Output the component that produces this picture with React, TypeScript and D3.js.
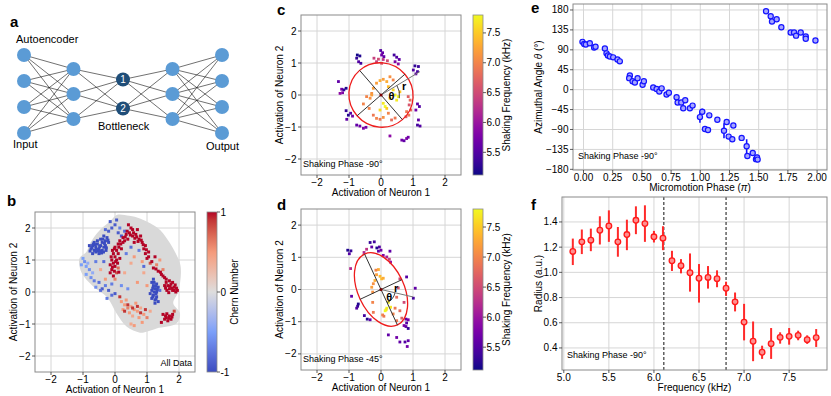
import React from "react";
import * as d3 from "d3";

const FONT = '"Liberation Sans", Arial, Helvetica, sans-serif';

// ---------------- Panel a : autoencoder diagram ----------------
const layerSizes = [4, 3, 2, 3, 4];
const layerSpacing = [26, 25, 29, 25, 26];
const bottleneckLabels = ["1", "2"];

// ---------------- Panel b : latent space coloured by Chern number ----------------
const neuronTicks = [-2, -1, 0, 1, 2];
const chernTicks = [1, 0, -1];
const chernTickLabels = ["1", "0", "-1"];
const blobOutline: [number, number][] = [
  [0.05, 2.41], [0.45, 2.38], [0.78, 2.3], [1.1, 2.15], [1.41, 1.94], [1.72, 1.52], [1.9, 1.2],
  [2.03, 0.9], [2.06, 0.6], [1.98, 0.01], [1.82, -0.35], [2.03, -0.66], [1.93, -0.98],
  [1.3, -1.14], [0.99, -1.24], [0.78, -1.27], [0.36, -1.08], [0.05, -0.67], [-0.26, -0.15],
  [-0.68, 0.17], [-1.04, 0.59], [-1.11, 1.05], [-0.89, 1.26], [-0.78, 1.52], [-0.47, 1.94],
  [-0.16, 2.2],
];
const chernPoints: [number, number, number][] = [
  // dense blue upper-left
  [-0.75, 1.35, -1], [-0.7, 1.45, -1], [-0.65, 1.3, -1], [-0.6, 1.4, -1], [-0.55, 1.5, -1], [-0.5, 1.35, -1],
  [-0.45, 1.45, -1], [-0.4, 1.55, -1], [-0.35, 1.4, -1], [-0.3, 1.6, -1], [-0.6, 1.25, -1], [-0.5, 1.2, -1],
  [-0.4, 1.3, -1], [-0.3, 1.45, -1], [-0.25, 1.7, -1], [-0.35, 1.75, -1], [-0.45, 1.65, -1], [-0.55, 1.6, -1],
  [-0.65, 1.55, -1], [-0.8, 1.45, -1], [-0.7, 1.2, -1], [-0.2, 1.55, -1], [-0.28, 1.3, -1], [-0.42, 1.22, -1],
  [-0.62, 1.48, -1], [-0.52, 1.28, -1], [-0.38, 1.65, -1],
  [-0.72, 1.38, -1], [-0.58, 1.33, -1], [-0.48, 1.42, -1], [-0.33, 1.52, -1], [-0.27, 1.38, -1],
  [-0.68, 1.5, -1], [-0.78, 1.28, -1], [-0.46, 1.28, -1], [-0.36, 1.25, -1], [-0.22, 1.62, -1],
  // sparse blue top
  [-0.2, 1.9, -0.9], [-0.1, 2.0, -0.9], [0.0, 2.1, -0.9], [-0.3, 1.95, -0.8], [0.1, 1.85, -0.9],
  [0.15, 2.0, -0.7], [0.05, 2.25, -0.9], [0.2, 1.75, -0.9], [-0.15, 2.2, -0.9], [0.3, 1.9, -0.8],
  // light blue left
  [-1.0, 1.05, -0.5], [-0.95, 0.95, -0.6], [-0.9, 0.8, -0.5], [-0.85, 0.9, -0.4], [-0.8, 0.7, -0.6],
  [-0.9, 0.55, -0.5], [-0.75, 0.45, -0.6], [-0.7, 0.6, -0.4], [-1.05, 0.85, -0.5], [-0.65, 0.35, -0.7],
  [-0.6, 0.15, -0.6],
  // blue lower-left scattered
  [-0.5, 0.3, -0.8], [-0.4, 0.1, -0.9], [-0.3, 0.2, -0.7], [-0.2, 0.05, -0.9], [-0.1, -0.1, -0.8],
  [0.0, -0.05, -0.9], [-0.45, 0.05, -0.8], [-0.25, -0.2, -0.7],
  // red left vertical band
  [0.0, 1.4, 1], [0.05, 1.3, 1], [-0.05, 1.2, 1], [0.0, 1.1, 1], [-0.1, 1.0, 1], [-0.05, 0.9, 1],
  [0.0, 0.8, 1], [-0.1, 0.7, 1], [0.05, 0.6, 0.8], [-0.05, 0.5, 1], [0.1, 1.5, 1], [0.15, 1.6, 1],
  [0.05, 1.0, 1], [0.1, 0.75, 0.7], [-0.15, 0.85, 1], [0.1, 1.2, 1], [0.2, 1.35, 1], [0.0, 0.4, 0.6],
  [-0.15, 0.6, 1], [0.08, 0.9, 1], [-0.08, 1.3, 1],
  [-0.02, 1.35, 1], [0.12, 1.4, 1], [-0.12, 1.1, 1], [0.02, 0.95, 1], [-0.08, 0.78, 1], [0.12, 0.62, 1],
  [-0.02, 0.65, 1], [0.15, 1.05, 1], [0.18, 1.5, 1], [0.25, 1.55, 1],
  // red top arc
  [0.25, 1.7, 1], [0.35, 1.8, 1], [0.45, 1.85, 1], [0.55, 1.75, 1], [0.65, 1.8, 1], [0.75, 1.65, 1],
  [0.85, 1.55, 1], [0.95, 1.45, 1], [0.4, 1.65, 1], [0.6, 1.55, 1], [0.7, 1.95, 1], [0.5, 2.0, 1],
  [0.3, 1.6, 1], [0.8, 1.75, 1], [0.9, 1.35, 1], [0.95, 1.2, 1], [1.05, 1.25, 1], [1.0, 1.05, 1],
  [0.42, 2.1, 1], [0.62, 1.68, 1],
  [0.32, 1.72, 1], [0.48, 1.78, 1], [0.58, 1.85, 1], [0.68, 1.72, 1], [0.82, 1.62, 1], [0.88, 1.48, 1],
  [0.98, 1.32, 1], [0.72, 1.58, 1], [0.55, 1.95, 1], [0.38, 1.9, 1],
  // red right side
  [1.1, 0.9, 0.8], [1.2, 0.75, 1], [1.3, 0.85, 0.6], [1.35, 0.65, 1], [1.45, 0.55, 1], [1.5, 0.7, 0.6],
  [1.55, 0.45, 1], [1.4, 1.0, 0.5], [1.25, 1.1, 1],
  [1.05, 1.1, 1], [1.15, 0.95, 1], [1.28, 0.72, 1], [1.42, 0.62, 1], [1.5, 0.5, 1], [1.6, 0.4, 1],
  // red right protrusion
  [1.6, 0.3, 1], [1.65, 0.2, 1], [1.7, 0.1, 1], [1.75, 0.25, 1], [1.8, 0.05, 1], [1.85, 0.15, 1],
  [1.9, 0.0, 1], [1.7, 0.35, 1], [1.62, 0.05, 1], [1.95, 0.05, 1], [1.8, 0.3, 1], [1.55, 0.2, 1],
  [1.68, -0.02, 1], [1.88, 0.22, 1],
  [1.72, 0.18, 1], [1.78, 0.12, 1], [1.85, 0.05, 1], [1.58, 0.12, 1], [1.92, 0.12, 1],
  // blue right cluster
  [1.15, 0.3, -1], [1.2, 0.2, -1], [1.25, 0.1, -1], [1.3, 0.0, -1], [1.2, -0.1, -1], [1.25, -0.25, -1],
  [1.3, 0.25, -1], [1.35, 0.15, -1], [1.15, 0.05, -1], [1.1, -0.05, -1], [1.3, -0.15, -1], [1.2, 0.4, -1],
  [1.4, 0.05, -0.8], [1.25, -0.35, -1], [1.35, -0.3, -1], [1.15, -0.2, -1], [1.22, 0.0, -1], [1.28, -0.05, -1],
  [1.18, 0.12, -1], [1.27, 0.18, -1], [1.32, 0.08, -1], [1.18, -0.15, -1], [1.28, -0.22, -1], [1.22, 0.3, -1],
  // red bottom right
  [1.5, -0.7, 1], [1.6, -0.8, 1], [1.7, -0.75, 1], [1.75, -0.85, 1], [1.65, -0.9, 1], [1.55, -0.85, 1],
  [1.8, -0.7, 1], [1.45, -0.95, 1], [1.85, -0.6, 0.8],
  [1.58, -0.75, 1], [1.68, -0.82, 1], [1.78, -0.78, 1], [1.62, -0.68, 1],
  // salmon lower middle
  [0.2, -0.3, 0.5], [0.3, -0.4, 0.5], [0.4, -0.5, 0.6], [0.5, -0.45, 0.4], [0.6, -0.55, 0.5], [0.7, -0.6, 0.5],
  [0.8, -0.5, 0.4], [0.9, -0.7, 0.5], [1.0, -0.8, 0.6], [0.45, -0.65, 0.5], [0.55, -0.75, 0.4], [0.35, -0.25, 0.5],
  [0.65, -0.35, 0.5], [0.75, -0.8, 0.5], [1.1, -0.6, 0.4], [0.25, -0.55, 0.5], [0.85, -0.95, 0.5],
  [0.5, -1.0, 0.4], [0.6, -1.05, 0.5],
  // red lower scattered
  [0.4, -0.4, 0.9], [0.55, -0.5, 0.9], [0.3, -0.6, 0.9], [0.7, -0.45, 0.9], [0.95, -0.55, 0.9],
  [0.15, -0.15, 0.9], [0.8, -0.65, 0.9],
  // light red middle
  [0.5, 0.9, 0.4], [0.6, 1.1, 0.5], [0.3, 0.6, 0.4], [0.7, 0.3, 0.5], [0.9, 0.6, 0.4], [0.85, 0.95, 0.5],
  [-0.3, 0.4, 0.5], [-0.45, 0.7, 0.4], [1.0, 0.2, 0.5],
  // blue scattered center
  [0.35, 1.2, -0.7], [0.5, 1.4, -0.8], [0.75, 1.3, -0.7], [0.9, 0.8, -0.8], [0.4, 0.1, -0.6],
  [-0.6, 0.95, -0.7], [-0.35, 0.95, -0.8], [-0.1, 0.25, -0.7], [0.2, 0.2, -0.6],
];

// ---------------- Panels c & d : latent space coloured by frequency ----------------
const freqTicks = [5.5, 6.0, 6.5, 7.0, 7.5];
const freqDomain = [5.12, 7.8];
const pointsC: [number, number, number][] = [
  [-0.74, 1.25, 5.15], [-0.66, 1.22, 5.2], [-0.76, 1.15, 5.3], [-0.7, 1.04, 5.5], [-0.63, 0.99, 5.4],
  [-0.22, 1.15, 6.4], [-0.08, 1.12, 6.5], [0.07, 1.11, 6.3], [0.2, 1.07, 6.5], [0.02, 0.99, 6.6], [-0.14, 1.04, 6.4],
  [-0.01, 1.39, 5.5], [0.05, 1.32, 5.6], [0.02, 1.25, 5.7], [0.09, 1.2, 5.6],
  [0.41, 1.25, 5.4], [0.49, 1.18, 5.5], [0.57, 1.11, 5.6], [0.44, 1.04, 5.8], [0.54, 0.97, 5.9],
  [1.06, 0.91, 5.3], [1.17, 0.89, 5.35], [1.01, 0.78, 5.5], [1.14, 0.73, 5.4], [1.09, 0.66, 5.6],
  [-1.33, 0.42, 5.6], [-1.23, 0.18, 5.7], [-1.16, 0.16, 5.3], [-1.2, 0.07, 5.8], [-1.09, 0.21, 5.2], [-1.28, 0.05, 5.9],
  [-1.09, -0.49, 5.3], [-1.02, -0.63, 5.2], [-0.95, -0.57, 5.5], [-0.89, -0.66, 5.7], [-1.07, -0.76, 5.6],
  [-0.76, -0.94, 5.6], [-0.66, -0.97, 5.7], [-0.55, -1.04, 5.8], [-0.47, -1.01, 5.7],
  [1.14, -0.28, 5.6], [1.2, -0.36, 5.5], [1.09, -0.47, 5.7], [1.17, -0.78, 5.6], [1.14, -0.94, 5.4], [1.22, -0.97, 5.5],
  [0.65, -1.41, 5.7], [0.72, -1.43, 5.6], [0.8, -1.36, 5.8], [0.85, -1.32, 5.7], [0.28, -1.28, 5.9],
  [0.85, -0.05, 6.7], [0.91, -0.16, 6.8], [0.88, -0.31, 6.6], [0.93, -0.47, 6.8], [0.87, -0.63, 6.9],
  [0.78, -0.68, 6.7], [0.8, -0.52, 6.9],
  [-0.29, 0.05, 7.1], [-0.24, 0.21, 7.2], [-0.14, 0.37, 7.2], [-0.03, 0.45, 7.3], [0.07, 0.49, 7.2],
  [0.18, 0.42, 7.3], [0.28, 0.57, 7.1], [0.38, 0.47, 7.0],
  [0.38, 0.16, 7.6], [0.44, 0.0, 7.7], [0.54, -0.05, 7.8], [0.28, -0.1, 7.6], [0.49, -0.16, 7.7],
  [0.07, -0.26, 7.7], [0.13, -0.36, 7.8], [-0.03, -0.47, 7.6], [0.18, -0.42, 7.5],
  [-0.55, -0.28, 7.0], [-0.37, -0.42, 7.0], [-0.24, -0.63, 6.9], [-0.14, -0.73, 7.0], [-0.03, -0.76, 6.9],
  [0.07, -0.7, 7.1], [0.23, -0.57, 7.0], [0.33, -0.78, 6.8], [0.44, -0.72, 6.9],
  [-0.34, -0.1, 7.1], [-0.45, -0.05, 7.0], [-0.29, 0.0, 7.2], [0.59, 0.1, 7.5], [0.23, 0.26, 7.4],
];
const pointsD: [number, number, number][] = [
  [-1.04, 1.22, 5.2], [-0.94, 1.2, 5.3], [-0.99, 1.11, 5.5],
  [-0.34, 1.46, 5.3], [-0.21, 1.48, 5.4], [-0.29, 1.32, 5.6], [-0.13, 1.29, 5.2], [-0.05, 1.32, 5.5],
  [0.0, 1.22, 5.7], [-0.08, 1.19, 5.6], [-0.45, 1.25, 6.3], [-0.53, 1.15, 6.2],
  [0.28, 1.19, 5.6], [0.18, 1.01, 6.1], [0.26, 0.94, 6.4], [0.3, 0.85, 6.0], [0.07, 1.06, 5.8],
  [-0.95, 0.65, 6.2], [-0.92, -0.21, 5.6], [0.8, 0.39, 5.5], [1.07, 0.04, 5.6], [1.01, -0.27, 5.4],
  [-0.71, -0.45, 5.2], [-0.73, -0.52, 5.3], [-0.76, -0.58, 5.5], [-0.52, -0.81, 5.4], [-0.43, -0.92, 5.2], [-0.34, -0.94, 5.6],
  [0.78, -0.92, 5.6], [0.85, -0.94, 5.7], [0.8, -1.04, 5.5], [0.72, -1.12, 5.8], [0.78, -1.15, 5.6], [0.85, -1.21, 5.3],
  [0.23, -1.41, 5.6], [0.49, -1.49, 5.7], [0.59, -1.63, 5.6], [0.75, -1.63, 5.5], [0.85, -1.59, 5.6], [0.82, -1.77, 5.7],
  [-0.08, 0.62, 7.3], [-0.14, 0.46, 7.2], [-0.03, 0.41, 7.4], [-0.19, 0.28, 7.3], [-0.24, 0.18, 7.1],
  [-0.29, 0.07, 7.2], [-0.26, -0.08, 7.1], [0.02, 0.33, 7.4], [0.07, 0.35, 7.3], [-0.16, 0.6, 7.0],
  [0.23, -0.4, 7.7], [0.18, -0.58, 7.8], [0.16, -0.63, 7.6], [0.3, -0.55, 7.7], [0.13, -0.66, 7.8],
  [0.49, -0.24, 6.8], [0.44, -0.58, 6.9], [0.38, -0.76, 7.0], [0.59, -0.66, 6.8], [0.65, -0.89, 6.7],
  [0.49, -0.97, 6.9], [0.05, -0.79, 7.0], [0.09, -0.83, 6.9], [-0.24, -0.71, 6.9], [-0.26, -0.4, 7.0],
  [0.59, 0.33, 6.5], [0.54, 0.05, 6.6], [0.72, -0.4, 6.5],
];
const ellipseC = { a: 1.02, b: 0.99, angle: -49, refAngle: 31, refLen: 1.42, arcR: 0.58, arcEnd: -10, rPos: [0.72, 0.27], thPos: [0.33, -0.05] };
const ellipseD = { a: 1.22, b: 0.72, angle: -65, refAngle: -13, refLen: 1.03, arcR: 0.45, arcEnd: -65, rPos: [0.47, 0.03], thPos: [0.26, -0.24] };

// ---------------- Panel e : azimuthal angle vs micromotion phase ----------------
const phaseTicks = [0, 0.25, 0.5, 0.75, 1.0, 1.25, 1.5, 1.75, 2.0];
const angleTicks = [-180, -135, -90, -45, 0, 45, 90, 135, 180];
const microPhase = [
  -0.009, 0.006, 0.02, 0.054, 0.091, 0.103, 0.183, 0.197, 0.209, 0.226, 0.254, 0.291, 0.311,
  0.397, 0.391, 0.42, 0.44, 0.463, 0.506, 0.517, 0.597, 0.626, 0.649, 0.669, 0.711, 0.731,
  0.797, 0.806, 0.837, 0.871, 0.854, 0.911, 0.934, 0.997, 1.017, 1.04, 1.066, 1.077, 1.146,
  1.203, 1.226, 1.243, 1.274, 1.283, 1.354, 1.397, 1.403, 1.449, 1.477, 1.486, 1.491,
  1.563, 1.603, 1.614, 1.654, 1.694, 1.774, 1.803, 1.82, 1.86, 1.903, 1.903, 1.986,
];
const azimuth = [
  108, 103, 102, 105, 95, 97, 93, 82, 77, 75, 73, 68, 64,
  32, 26, 19, 16, 26, 11, 19, 5, 1.5, -4, 3, -11, -7,
  -17, -29, -29, -24, -42, -42, -36, -62, -50, -89, -91, -58, -68,
  -93, -73, -106, -112, -81, -109, -128, -150, -143, -157, -153, -158,
  177, 166, 154, 159, 141, 129, 129, 122, 129, 120, 115, 111,
];
const azimuthErr = [
  3, 2, 2, 2, 3, 2, 2, 2, 2, 2, 2, 2, 2,
  3, 2, 2, 2, 2, 3, 3, 2, 2, 2, 2, 2, 2,
  2, 2, 2, 2, 2, 2, 2, 13, 7, 2, 2, 2, 2,
  17, 6, 2, 2, 2, 2, 16, 2, 2, 2, 6, 2,
  2, 2, 2, 2, 2, 2, 2, 2, 2, 2, 2, 2,
];

// ---------------- Panel f : radius vs frequency ----------------
const freqFTicks = [5.0, 5.5, 6.0, 6.5, 7.0, 7.5];
const radiusTicks = [0.4, 0.6, 0.8, 1.0, 1.2, 1.4];
const freqF = [5.1, 5.2, 5.3, 5.4, 5.5, 5.6, 5.7, 5.8, 5.9, 6.0, 6.1, 6.2, 6.3, 6.4, 6.5, 6.6, 6.7, 6.8, 6.9, 7.0, 7.1, 7.2, 7.3, 7.4, 7.5, 7.6, 7.7, 7.8];
const radius = [1.166, 1.242, 1.255, 1.334, 1.368, 1.242, 1.3, 1.413, 1.387, 1.282, 1.271, 1.092, 1.053, 0.997, 0.953, 0.96, 0.95, 0.874, 0.766, 0.605, 0.453, 0.366, 0.434, 0.484, 0.492, 0.5, 0.466, 0.482];
const radiusHi = [1.268, 1.34, 1.347, 1.445, 1.492, 1.36, 1.418, 1.524, 1.532, 1.329, 1.366, 1.171, 1.105, 1.15, 1.066, 1.05, 1.016, 0.926, 0.84, 0.75, 0.61, 0.418, 0.558, 0.524, 0.558, 0.537, 0.5, 0.55];
const radiusLo = [1.058, 1.145, 1.168, 1.221, 1.242, 1.124, 1.176, 1.303, 1.242, 1.237, 1.176, 1.011, 0.992, 0.847, 0.76, 0.871, 0.882, 0.813, 0.69, 0.46, 0.295, 0.313, 0.313, 0.434, 0.426, 0.461, 0.432, 0.408];
const dashedFreqs = [6.11, 6.8];

// ---------------- colour maps ----------------
const coolwarm = d3.piecewise(d3.interpolateLab, ["#3b4cc0", "#7b9ff9", "#dddddd", "#f49a7b", "#b40426"]);
const chernColor = (c: number) => coolwarm((c + 1) / 2);
const freqColor = (f: number) => d3.interpolatePlasma((f - freqDomain[0]) / (freqDomain[1] - freqDomain[0]));

const fmtInt = d3.format("d");
const fmt1 = d3.format(".1f");
const fmt2 = d3.format(".2f");

function Axes(props: any) {
  const { xs, ys, xTicks, yTicks, xFmt, yFmt, xLabel, yLabel, yLabelX, children } = props;
  const [L, R] = xs.range();
  const [B, T] = ys.range();
  return (
    <g>
      <rect x={L} y={T} width={R - L} height={B - T} fill="#fff" />
      {xTicks.map((t: number, i: number) => (
        <line key={"gx" + i} x1={xs(t)} x2={xs(t)} y1={T} y2={B} stroke="#d6d6d6" strokeWidth={1} />
      ))}
      {yTicks.map((t: number, i: number) => (
        <line key={"gy" + i} x1={L} x2={R} y1={ys(t)} y2={ys(t)} stroke="#d6d6d6" strokeWidth={1} />
      ))}
      {children}
      <rect x={L} y={T} width={R - L} height={B - T} fill="none" stroke="#8a8a8a" strokeWidth={1} />
      {xTicks.map((t: number, i: number) => (
        <g key={"tx" + i}>
          <line x1={xs(t)} x2={xs(t)} y1={B} y2={B + 3} stroke="#333" strokeWidth={0.8} />
          <text x={xs(t)} y={B + 10.5} textAnchor="middle" fontSize={10}>{xFmt(t)}</text>
        </g>
      ))}
      {yTicks.map((t: number, i: number) => (
        <g key={"ty" + i}>
          <line x1={L - 3} x2={L} y1={ys(t)} y2={ys(t)} stroke="#333" strokeWidth={0.8} />
          <text x={L - 4.5} y={ys(t)} dy="0.35em" textAnchor="end" fontSize={10}>{yFmt(t)}</text>
        </g>
      ))}
      <text x={(L + R) / 2} y={B + 20.5} textAnchor="middle" fontSize={10}>{xLabel}</text>
      <text transform={`translate(${yLabelX},${(T + B) / 2}) rotate(-90)`} textAnchor="middle" dy="0.35em" fontSize={10}>{yLabel}</text>
    </g>
  );
}

function Colorbar(props: any) {
  const { id, x, w, scale, ticks, labels, label, labelX, interp } = props;
  const [B, T] = scale.range();
  const stops = d3.range(0, 1.0001, 0.05);
  return (
    <g>
      <defs>
        <linearGradient id={id} x1="0" y1="1" x2="0" y2="0">
          {stops.map((s, i) => <stop key={i} offset={s} stopColor={interp(s)} />)}
        </linearGradient>
      </defs>
      <rect x={x} y={T} width={w} height={B - T} fill={`url(#${id})`} stroke="#8a8a8a" strokeWidth={0.8} />
      {ticks.map((t: number, i: number) => (
        <g key={i}>
          <line x1={x + w} x2={x + w + 3} y1={scale(t)} y2={scale(t)} stroke="#333" strokeWidth={0.8} />
          <text x={x + w + 3.5} y={scale(t)} dy="0.35em" fontSize={10}>{labels ? labels[i] : fmt1(t)}</text>
        </g>
      ))}
      <text transform={`translate(${labelX},${(T + B) / 2}) rotate(-90)`} textAnchor="middle" dy="0.35em" fontSize={10}>{label}</text>
    </g>
  );
}

function PanelA() {
  const xs = d3.scalePoint<number>().domain(d3.range(layerSizes.length)).range([24, 222]);
  const nodes = layerSizes.map((n, li) =>
    d3.range(n).map((i) => ({ x: xs(li) as number, y: 94 + (i - (n - 1) / 2) * layerSpacing[li] }))
  );
  const links: any[] = [];
  for (let l = 0; l < nodes.length - 1; l++)
    nodes[l].forEach((a) => nodes[l + 1].forEach((b) => links.push([a, b])));
  return (
    <g>
      {links.map((k, i) => (
        <line key={i} x1={k[0].x} y1={k[0].y} x2={k[1].x} y2={k[1].y} stroke="#111" strokeWidth={0.6} />
      ))}
      {nodes.map((layer, li) =>
        layer.map((p, i) => (
          <g key={li + "-" + i}>
            <circle cx={p.x} cy={p.y} r={7} fill={li === 2 ? "#1f4e79" : "#5b9bd5"} />
            {li === 2 && (
              <text x={p.x} y={p.y} dy="0.36em" textAnchor="middle" fontSize={10} fill="#fff">{bottleneckLabels[i]}</text>
            )}
          </g>
        ))
      )}
      <text x={10} y={27} fontSize={15} fontWeight="bold">a</text>
      <text x={16} y={43} fontSize={11}>Autoencoder</text>
      <text x={13} y={148} fontSize={11}>Input</text>
      <text x={98} y={130} fontSize={11}>Bottleneck</text>
      <text x={206} y={150} fontSize={11}>Output</text>
    </g>
  );
}

function PanelB() {
  const xs = d3.scaleLinear().domain([-2.5, 2.5]).range([35, 195]);
  const ys = d3.scaleLinear().domain([-2.5, 2.5]).range([372, 212]);
  const blob = d3.line<[number, number]>().x((d) => xs(d[0])).y((d) => ys(d[1])).curve(d3.curveCatmullRomClosed)(blobOutline) || "";
  const cb = d3.scaleLinear().domain([-1, 1]).range([372, 212]);
  return (
    <g>
      <Axes xs={xs} ys={ys} xTicks={neuronTicks} yTicks={neuronTicks} xFmt={fmtInt} yFmt={fmtInt}
        xLabel="Activation of Neuron 1" yLabel="Activation of Neuron 2" yLabelX={13}>
        <path d={blob} fill="#d9d9d9" />
        {chernPoints.map((p, i) => (
          <rect key={i} x={xs(p[0]) - 1.5} y={ys(p[1]) - 1.5} width={3} height={3} fill={chernColor(p[2])} />
        ))}
        <text x={192} y={366} textAnchor="end" fontSize={9}>All Data</text>
      </Axes>
      <Colorbar id="cbB" x={207} w={10} scale={cb} ticks={chernTicks} labels={chernTickLabels}
        label="Chern Number" labelX={234} interp={coolwarm} />
      <text x={7} y={206} fontSize={15} fontWeight="bold">b</text>
    </g>
  );
}

function FreqPanel(props: any) {
  const { letter, top, bottom, points, ell, phaseText, id } = props;
  const xs = d3.scaleLinear().domain([-2.5, 2.5]).range([301, 461]);
  const ys = d3.scaleLinear().domain([-2.5, 2.5]).range([bottom, top]);
  const cb = d3.scaleLinear().domain(freqDomain).range([bottom, top]);
  const k = xs(1) - xs(0);
  const rad = Math.PI / 180;
  const cx = xs(0), cy = ys(0);
  const th = ell.angle * rad;
  const major = [[-ell.a * Math.cos(th), -ell.a * Math.sin(th)], [ell.a * Math.cos(th), ell.a * Math.sin(th)]];
  const minor = [[ell.b * Math.sin(th), -ell.b * Math.cos(th)], [-ell.b * Math.sin(th), ell.b * Math.cos(th)]];
  const ph = ell.refAngle * rad;
  const ae = ell.arcEnd * rad;
  const ar = ell.arcR * k;
  const arc = `M${xs(ell.arcR * Math.cos(ph))},${ys(ell.arcR * Math.sin(ph))} A${ar},${ar} 0 0 1 ${xs(ell.arcR * Math.cos(ae))},${ys(ell.arcR * Math.sin(ae))}`;
  return (
    <g>
      <Axes xs={xs} ys={ys} xTicks={neuronTicks} yTicks={neuronTicks} xFmt={fmtInt} yFmt={fmtInt}
        xLabel="Activation of Neuron 1" yLabel="Activation of Neuron 2" yLabelX={279}>
        {points.map((p: number[], i: number) => (
          <rect key={i} x={xs(p[0]) - 1.4} y={ys(p[1]) - 1.4} width={2.8} height={2.8} fill={freqColor(p[2])} />
        ))}
        <ellipse cx={cx} cy={cy} rx={ell.a * k} ry={ell.b * k} transform={`rotate(${-ell.angle} ${cx} ${cy})`}
          fill="none" stroke="#ee1c1c" strokeWidth={1.3} />
        <line x1={xs(major[0][0])} y1={ys(major[0][1])} x2={xs(major[1][0])} y2={ys(major[1][1])} stroke="#333" strokeWidth={1} />
        <line x1={xs(minor[0][0])} y1={ys(minor[0][1])} x2={xs(minor[1][0])} y2={ys(minor[1][1])} stroke="#333" strokeWidth={1} />
        <line x1={cx} y1={cy} x2={xs(ell.refLen * Math.cos(ph))} y2={ys(ell.refLen * Math.sin(ph))} stroke="#777" strokeWidth={1} />
        <path d={arc} fill="none" stroke="#333" strokeWidth={0.9} />
        <circle cx={cx} cy={cy} r={1.6} fill="#7a0000" />
        <text x={xs(ell.rPos[0])} y={ys(ell.rPos[1])} dy="0.35em" textAnchor="middle" fontSize={11} fontWeight="bold">r</text>
        <text x={xs(ell.thPos[0])} y={ys(ell.thPos[1])} dy="0.35em" textAnchor="middle" fontSize={11} fontWeight="bold">θ</text>
        <text x={303} y={bottom - 8} fontSize={9}>{phaseText}</text>
      </Axes>
      <Colorbar id={id} x={473} w={10} scale={cb} ticks={freqTicks} label="Shaking Frequency (kHz)" labelX={506}
        interp={d3.interpolatePlasma} />
      <text x={277} y={letter === "c" ? 15 : 210} fontSize={15} fontWeight="bold">{letter}</text>
    </g>
  );
}

function PanelE() {
  const xs = d3.scaleLinear().domain([-0.09, 2.085]).range([573, 827]);
  const ys = d3.scaleLinear().domain([-181.5, 193.5]).range([170, 4]);
  const yLabel = (
    <>
      Azimuthal Angle <tspan fontStyle="italic">θ</tspan> (°)
    </>
  );
  const xLabel = (
    <>
      Micromotion Phase (<tspan fontStyle="italic">π</tspan>)
    </>
  );
  return (
    <g>
      <Axes xs={xs} ys={ys} xTicks={phaseTicks} yTicks={angleTicks} xFmt={fmt2} yFmt={fmtInt}
        xLabel={xLabel} yLabel={yLabel} yLabelX={538}>
        {microPhase.map((p, i) => (
          <line key={"e" + i} x1={xs(p)} x2={xs(p)} y1={ys(azimuth[i] - azimuthErr[i])} y2={ys(azimuth[i] + azimuthErr[i])}
            stroke="#1010ff" strokeWidth={1.6} />
        ))}
        {microPhase.map((p, i) => (
          <circle key={"p" + i} cx={xs(p)} cy={ys(azimuth[i])} r={2.6} fill="#a6a6ff" stroke="#1414ff" strokeWidth={1.2} />
        ))}
        <text x={578} y={159} fontSize={9}>Shaking Phase -90°</text>
      </Axes>
      <text x={531} y={13} fontSize={15} fontWeight="bold">e</text>
    </g>
  );
}

function PanelF() {
  const xs = d3.scaleLinear().domain([4.98, 7.92]).range([562, 827]);
  const ys = d3.scaleLinear().domain([0.225, 1.598]).range([370, 197]);
  return (
    <g>
      <Axes xs={xs} ys={ys} xTicks={freqFTicks} yTicks={radiusTicks} xFmt={fmt1} yFmt={fmt1}
        xLabel="Frequency (kHz)" yLabel="Radius (a.u.)" yLabelX={538}>
        {dashedFreqs.map((f, i) => (
          <line key={"d" + i} x1={xs(f)} x2={xs(f)} y1={197} y2={370} stroke="#111" strokeWidth={1} strokeDasharray="3,2" />
        ))}
        {freqF.map((f, i) => (
          <line key={"e" + i} x1={xs(f)} x2={xs(f)} y1={ys(radiusLo[i])} y2={ys(radiusHi[i])} stroke="#ff2a2a" strokeWidth={2} />
        ))}
        {freqF.map((f, i) => (
          <circle key={"p" + i} cx={xs(f)} cy={ys(radius[i])} r={2.8} fill="#ff9090" stroke="#ff1a1a" strokeWidth={1.3} />
        ))}
        <text x={567} y={358} fontSize={9}>Shaking Phase -90°</text>
      </Axes>
      <text x={531} y={210} fontSize={15} fontWeight="bold">f</text>
    </g>
  );
}

export default function App() {
  return (
    <svg width={831} height={396} style={{ position: "absolute", left: 0, top: 0, background: "#fff" }}
      fontFamily={FONT}>
      <rect width={831} height={396} fill="#fff" />
      <PanelA />
      <PanelB />
      <FreqPanel id="cbC" letter="c" top={15} bottom={175} points={pointsC} ell={ellipseC} phaseText="Shaking Phase -90°" />
      <FreqPanel id="cbD" letter="d" top={209} bottom={370} points={pointsD} ell={ellipseD} phaseText="Shaking Phase -45°" />
      <PanelE />
      <PanelF />
    </svg>
  );
}
